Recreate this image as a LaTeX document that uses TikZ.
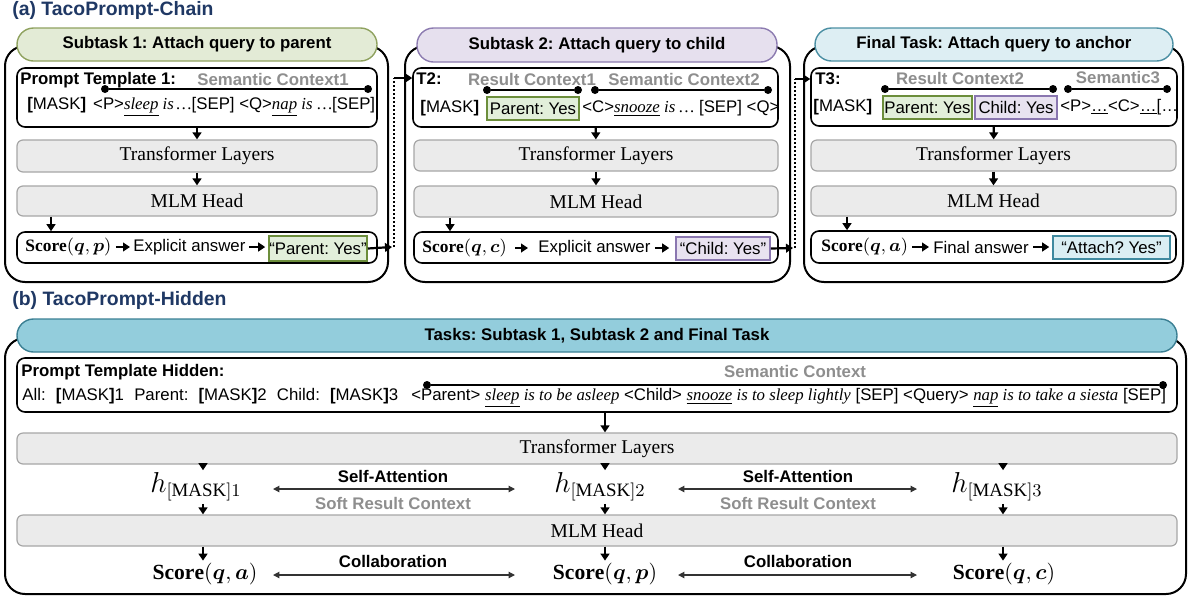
\documentclass[tikz,border=0pt]{standalone}
\usepackage{fontspec}
\usepackage{amsmath,bm}
\setmainfont{Liberation Serif}
\setsansfont{Liberation Sans}
\newfontfamily\tnr{Liberation Serif}
\newfontfamily\arl{Liberation Sans}
\usetikzlibrary{arrows.meta,calc}
\definecolor{navy}{HTML}{1F3864}
\definecolor{gpfill}{HTML}{E3EBD6}
\definecolor{gpline}{HTML}{8FA25F}
\definecolor{ppfill}{HTML}{E6E0EE}
\definecolor{ppline}{HTML}{8C7BB0}
\definecolor{bpfill}{HTML}{DDEEF3}
\definecolor{bpline}{HTML}{4B8FA3}
\definecolor{hfill}{HTML}{93CDDC}
\definecolor{hline}{HTML}{3B7F93}
\definecolor{gfill}{HTML}{E2EFDA}
\definecolor{gline}{HTML}{6C8E3B}
\definecolor{pfill}{HTML}{E8E2F0}
\definecolor{pline}{HTML}{8A76B0}
\definecolor{bfill}{HTML}{DAEEF3}
\definecolor{bline}{HTML}{3F8AA0}
\definecolor{boxgray}{HTML}{EBEBEB}
\definecolor{boxline}{HTML}{A6A6A6}
\definecolor{txtgray}{HTML}{8E8E8E}
\newcommand{\fs}{\fontsize{8.4}{10}\selectfont}
\newcommand{\ftl}{\fontsize{9.75}{11}\selectfont}
\newcommand{\sr}[1]{{\tnr\itshape #1}}
\newcommand{\bk}[1]{\textbf{[}#1\textbf{]}}
\newcommand{\gp}{\hspace{5.1pt}}
% box from (x1,y1) to (x2,y2) in px units
\newcommand{\bx}[7]{\node[#1, minimum width={(#5-#3)*0.5pt}, minimum height={(#6-#4)*0.5pt}] (#2) at ({(#3+#5)/2},{(#4+#6)/2}) {#7};}
\tikzset{
 frame/.style={draw, line width=1pt, rounded corners=10pt, inner sep=0pt},
 pill/.style={draw, line width=0.7pt, rounded corners=8.25pt, inner sep=0pt, font=\arl\bfseries\fs},
 tbox/.style={draw, line width=0.8pt, rounded corners=4pt, inner sep=0pt},
 gbox/.style={draw=boxline, fill=boxgray, line width=0.6pt, rounded corners=3pt, inner sep=0pt, font=\tnr\ftl},
 ansbox/.style={line width=0.8pt, inner sep=0pt, font=\arl\fs},
 txt/.style={inner sep=0pt, font=\arl\fs},
 btxt/.style={inner sep=0pt, font=\arl\bfseries\fs},
 gtxt/.style={inner sep=0pt, font=\arl\bfseries\fs, text=txtgray},
 ttl/.style={inner sep=0pt, font=\arl\bfseries\fontsize{9.7}{11}\selectfont, text=navy, anchor=west},
 sca/.style={inner sep=0pt, font=\fontsize{8.7}{10}\selectfont},
 scb/.style={inner sep=1pt, font=\fontsize{10.8}{12}\selectfont},
 hn/.style={inner sep=1pt, font=\fontsize{13.5}{14}\selectfont},
 arr/.style={-{Triangle[length=3.5pt,width=4.4pt]}, line width=1.1pt},
 darr/.style={{Triangle[length=3.2pt,width=3.2pt]}-{Triangle[length=3.2pt,width=3.2pt]}, line width=0.6pt, draw=black!80},
 dots/.style={line width=1pt, dash pattern=on 1pt off 1pt},
 dot/.style={circle, fill, inner sep=0pt, minimum size=4pt},
 sline/.style={line width=0.8pt},
}
\begin{document}
\frenchspacing
\begin{tikzpicture}[x=0.5pt,y=-0.5pt]
\useasboundingbox (0,0) rectangle (1188,601);
% ================= (a) =================
\node[ttl] (ta) at (12,10) {(a) TacoPrompt-Chain};
% ---- box 1
\bx{frame}{f1}{5}{46}{388}{282}{}
\bx{pill, fill=gpfill, draw=gpline}{p1}{17}{28}{377}{61}{Subtask 1: Attach query to parent}
\bx{tbox, fill=white}{t1}{17}{68}{377}{127}{}
\node[btxt, anchor=west] (t1h) at (20,80) {Prompt Template 1:};
\node[gtxt] (t1s) at (273,79) {Semantic Context1};
\node[dot] (d1a) at (105,89) {};
\node[dot] (d1b) at (368,89) {};
\draw[sline] (d1a) -- (d1b);
\node[txt, anchor=west] (t1r) at (27,107) {\bk{MASK}\hspace{3.5pt}<P>\sr{\underline{sleep} is\,…}[SEP] <Q>\sr{\underline{nap} is}\ \sr{…}[SEP]};
\bx{gbox}{tl1}{17}{140}{377}{172}{Transformer Layers}
\bx{gbox}{mh1}{17}{186}{377}{216}{MLM Head}
\bx{tbox}{sb1}{17}{232}{377}{263}{}
\node[sca, anchor=west] (sc1) at (25,247) {$\mathbf{Score}(\bm{q},\bm{p})$};
\node[txt, anchor=west] (ea1) at (133,247) {Explicit answer};
\bx{ansbox, fill=gfill, draw=gline}{an1}{269}{236}{367}{261}{“Parent: Yes”}
\coordinate (k1) at (51,224);
\draw[arr] (t1) -- (tl1);
\draw[arr] (tl1) -- (mh1);
\draw[arr] (mh1.south -| k1) -- (sb1.north -| k1);
\draw[arr, shorten <=2pt, shorten >=1.5pt] (sc1.east) -- (ea1.west);
\draw[arr, shorten <=1.5pt, shorten >=1.5pt] (ea1.east) -- (an1.west |- ea1.east);
% ---- box 2
\bx{frame}{f2}{405}{46}{790}{282}{}
\bx{pill, fill=ppfill, draw=ppline}{p2}{417}{28}{777}{62}{Subtask 2: Attach query to child}
\bx{tbox, fill=white}{t2}{413}{68}{778}{127}{}
\node[btxt, anchor=west] (t2h) at (416,79) {T2:};
\node[gtxt] (t2r) at (532,79) {Result Context1};
\node[gtxt] (t2s) at (684,79) {Semantic Context2};
\node[dot] (d2a) at (487,90) {};
\node[dot] (d2b) at (578,90) {};
\node[dot] (d2c) at (595,90) {};
\node[dot] (d2d) at (768,90) {};
\draw[sline] (d2a) -- (d2b);
\draw[sline] (d2c) -- (d2d);
\node[txt, anchor=west] (t2m) at (420,108) {\bk{MASK}};
\bx{ansbox, fill=gfill, draw=gline}{r2}{487}{97}{579}{120}{Parent: Yes}
\node[txt, anchor=west] (t2x) at (582,108) {<C>\sr{\underline{snooze} is …} [SEP] <Q>};
\bx{gbox}{tl2}{414}{140}{778}{171}{Transformer Layers}
\bx{gbox}{mh2}{414}{186}{778}{217}{MLM Head}
\bx{tbox}{sb2}{414}{232}{778}{263}{}
\node[sca, anchor=west] (sc2) at (422,248) {$\mathbf{Score}(\bm{q},\bm{c})$};
\node[txt, anchor=west] (ea2) at (538,248) {Explicit answer};
\bx{ansbox, fill=pfill, draw=pline}{an2}{676}{237}{770}{260}{“Child: Yes”}
\coordinate (k2) at (450,224);
\draw[arr] (t2) -- (tl2);
\draw[arr] (tl2) -- (mh2);
\draw[arr] (mh2.south -| k2) -- (sb2.north -| k2);
\draw[arr, shorten <=4pt, shorten >=5pt] (sc2.east) -- (ea2.west);
\draw[arr, shorten <=2pt, shorten >=3pt] (ea2.east) -- (an2.west |- ea2.east);
% ---- box 3
\bx{frame}{f3}{804}{46}{1183}{282}{}
\bx{pill, fill=bpfill, draw=bpline}{p3}{815}{28}{1173}{61}{Final Task: Attach query to anchor}
\bx{tbox, fill=white}{t3}{811}{68}{1177}{126}{}
\node[btxt, anchor=west] (t3h) at (815,79) {T3:};
\node[gtxt] (t3r) at (960,78) {Result Context2};
\node[gtxt] (t3s) at (1118,78) {Semantic3};
\node[dot] (d3a) at (885,89) {};
\node[dot] (d3b) at (1053,89) {};
\node[dot] (d3c) at (1068,89) {};
\node[dot] (d3d) at (1167,89) {};
\draw[sline] (d3a) -- (d3b);
\draw[sline] (d3c) -- (d3d);
\node[txt, anchor=west] (t3m) at (813,107) {\bk{MASK}};
\bx{ansbox, fill=gfill, draw=gline}{r3a}{883}{96}{972}{119}{Parent: Yes}
\bx{ansbox, fill=pfill, draw=pline}{r3b}{975}{96}{1057}{119}{Child: Yes}
\node[txt, anchor=west] (t3x) at (1060,107) {<P>\underline{…}<C>\underline{…}[…};
\bx{gbox}{tl3}{811}{140}{1176}{171}{Transformer Layers}
\bx{gbox}{mh3}{811}{186}{1176}{216}{MLM Head}
\bx{tbox}{sb3}{811}{231}{1176}{263}{}
\node[sca, anchor=west] (sc3) at (821,247) {$\mathbf{Score}(\bm{q},\bm{a})$};
\node[txt, anchor=west] (ea3) at (933,247) {Final answer};
\bx{ansbox, fill=bfill, draw=bline}{an3}{1053}{236}{1170}{259}{“Attach? Yes”}
\coordinate (k3) at (847,224);
\draw[arr] (t3) -- (tl3);
\draw[arr] (tl3) -- (mh3);
\draw[arr] (mh3.south -| k3) -- (sb3.north -| k3);
\draw[arr, shorten <=2pt, shorten >=2pt] (sc3.east) -- (ea3.west);
\draw[arr, shorten <=2pt, shorten >=1.5pt] (ea3.east) -- (an3.west |- ea3.east);
% ---- chain connectors
\coordinate (j1) at (392,247);
\coordinate (j2) at (394,78);
\coordinate (j3) at (793,248);
\coordinate (j4) at (795,79);
\draw[arr] (an1.east) -- (j1);
\draw[dots] (j1 -| j2) -- (j2);
\draw[arr] (j2) -- (t2.west |- j2);
\draw[arr] (an2.east) -- (j3);
\draw[dots] (j3 -| j4) -- (j4);
\draw[arr] (j4) -- (t3.west |- j4);
% ================= (b) =================
\node[ttl] (tb) at (12,300) {(b) TacoPrompt-Hidden};
\bx{frame}{fb}{5}{338}{1186}{594}{}
\bx{pill, fill=hfill, draw=hline}{pb}{17}{319}{1177}{352}{Tasks: Subtask 1, Subtask 2 and Final Task}
\bx{tbox, fill=white}{tbx}{17}{358}{1177}{412}{}
\node[btxt, anchor=west] (tbh) at (21,372) {Prompt Template Hidden:};
\node[gtxt] (tbs) at (795,371) {Semantic Context};
\node[dot] (dba) at (427,385) {};
\node[dot] (dbb) at (1163,385) {};
\draw[sline] (dba) -- (dbb);
\node[txt, anchor=west] (tbr) at (22,398) {All:\gp\bk{MASK}1\gp Parent:\gp\bk{MASK}2\gp Child:\gp\bk{MASK}3\hspace{6.5pt}<Parent> \sr{\underline{sleep} is to be asleep} <Child> \sr{\underline{snooze} is to sleep lightly} [SEP] <Query> \sr{\underline{nap} is to take a siesta} [SEP]};
\bx{gbox}{tlb}{17}{433}{1177}{464}{Transformer Layers}
\bx{gbox}{mhb}{17}{515}{1177}{546}{MLM Head}
\coordinate (ax1) at (203,0);
\coordinate (ax2) at (605,0);
\coordinate (ax3) at (1003,0);
\draw[arr] (tbx.south -| ax2) -- (tlb.north -| ax2);
\node[hn] (h1) at (196,487) {$h_{[\mathrm{MASK}]1}$};
\node[hn] (h2) at (600,487) {$h_{[\mathrm{MASK}]2}$};
\node[hn] (h3) at (997,487) {$h_{[\mathrm{MASK}]3}$};
\node[scb] (s1) at (205,574) {$\mathbf{Score}(\bm{q},\bm{a})$};
\node[scb] (s2) at (605,574) {$\mathbf{Score}(\bm{q},\bm{p})$};
\node[scb] (s3) at (1004,574) {$\mathbf{Score}(\bm{q},\bm{c})$};
\foreach \i in {1,2,3}{
 \draw[arr] (tlb.south -| ax\i) -- (h\i.north -| ax\i);
 \draw[arr] (h\i.south -| ax\i) -- (mhb.north -| ax\i);
 \draw[arr] (mhb.south -| ax\i) -- (s\i.north -| ax\i);
}
\node[btxt] (sa1) at (393,476) {Self-Attention};
\node[gtxt] (sr1) at (393,503) {Soft Result Context};
\node[btxt] (sa2) at (798,476) {Self-Attention};
\node[gtxt] (sr2) at (798,503) {Soft Result Context};
\node[btxt] (co1) at (393,561) {Collaboration};
\node[btxt] (co2) at (798,561) {Collaboration};
\coordinate (e1) at (273,489);
\coordinate (e2) at (515,489);
\coordinate (e3) at (678,489);
\coordinate (e4) at (917,489);
\coordinate (e5) at (273,575);
\coordinate (e6) at (515,575);
\coordinate (e7) at (678,575);
\coordinate (e8) at (917,575);
\draw[darr] (e1) -- (e2);
\draw[darr] (e3) -- (e4);
\draw[darr] (e5) -- (e6);
\draw[darr] (e7) -- (e8);
\end{tikzpicture}
\end{document}
